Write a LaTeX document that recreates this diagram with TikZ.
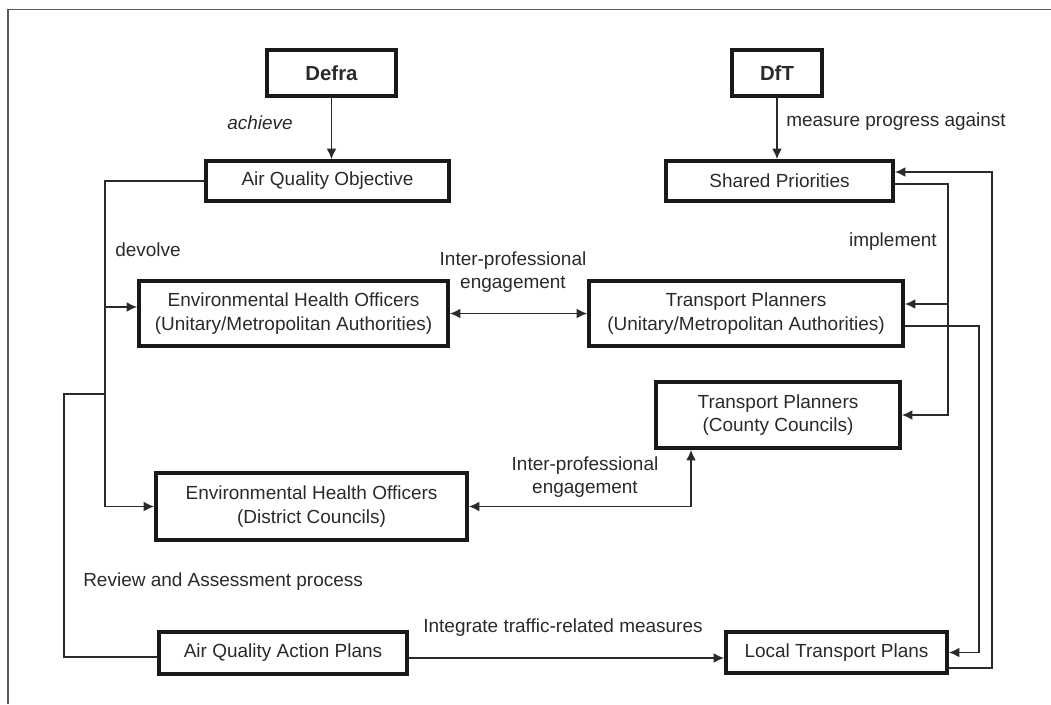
\documentclass[tikz,border=0pt]{standalone}
\usepackage{fontspec}
\setmainfont{Liberation Sans}
\usetikzlibrary{arrows.meta,calc}
\definecolor{ink}{HTML}{2A2A2A}
\tikzset{
  box/.style={draw=black!90,line width=2.6pt,inner sep=0pt,align=center,text=ink,font=\fontsize{13.5}{16.5}\selectfont},
  lbl/.style={text=ink,align=center,inner sep=0pt,font=\fontsize{13.5}{16.5}\selectfont},
  conn/.style={draw=ink,line width=1.1pt},
  arr/.style={conn,-{Latex[length=7.5pt,width=7pt]}},
  dbl/.style={conn,{Latex[length=7.5pt,width=7pt]}-{Latex[length=7.5pt,width=7pt]}},
}
\begin{document}
\begin{tikzpicture}[x=0.025cm,y=-0.025cm]
        \useasboundingbox(0,0)rectangle(1051,704);
        \draw[black!65,line width=1.3pt](1051,9.5)--(8,9.5)--(8,704);
        % top row
        \node[box,minimum width=3.225cm,minimum height=1.15cm,font=\bfseries\fontsize{14.5}{17}\selectfont](defra)at(331.5,73){Defra};
        \node[box,minimum width=2.25cm,minimum height=1.15cm,font=\bfseries\fontsize{14.5}{17}\selectfont](dft)at(777,73){DfT};
        \node[box,minimum width=6.075cm,minimum height=1cm](aqo)at(327.5,181){Air Quality Objective};
        \node[box,minimum width=5.675cm,minimum height=1cm](sp)at(779.5,181){Shared Priorities};
        % officers and planners
        \node[box,minimum width=7.725cm,minimum height=1.625cm](ehou)at(293.5,313.5){Environmental Health Officers\\(Unitary/Metropolitan Authorities)};
        \node[box,minimum width=7.85cm,minimum height=1.625cm](tpu)at(746,313.5){Transport Planners\\(Unitary/Metropolitan Authorities)};
        \node[box,minimum width=6.1cm,minimum height=1.65cm](tpc)at(778,415){Transport Planners\\(County Councils)};
        \node[box,minimum width=7.775cm,minimum height=1.675cm](ehod)at(311.5,506.5){Environmental Health Officers\\(District Councils)};
        % plans
        \node[box,minimum width=6.2cm,minimum height=1.05cm](aqap)at(283,653){Air Quality Action Plans};
        \node[box,minimum width=5.525cm,minimum height=1.025cm](ltp)at(836.5,652.5){Local Transport Plans};
        % labels
        \node[lbl,font=\itshape\fontsize{13.5}{16.5}\selectfont](achv)at(260,123){achieve};
        \node[lbl,anchor=west](mpa)at(786,122){measure progress against};
        \node[lbl,anchor=west](dev)at(115,250){devolve};
        \node[lbl](ipe1)at(513,272){Inter-professional\\engagement};
        \node[lbl,anchor=east](impl)at(937,242){implement};
        \node[lbl](ipe2)at(585,477){Inter-professional\\engagement};
        \node[lbl,anchor=west](rev)at(83,582){Review and Assessment process};
        \node[lbl](itm)at(563,628){Integrate traffic-related measures};
        % connectors
        \draw[arr](defra.south)--(defra.south|-aqo.north);
        \draw[arr](dft.south)--(dft.south|-sp.north);
        \coordinate(dv)at(105,307);
        \coordinate(ra)at(105,394);
        \draw[arr](aqo.west)-|(dv|-ehod.west)--(ehod.west);
        \draw[arr](dv)--(dv-|ehou.west);
        \draw[conn](ra)--++(-41,0)|-($(aqap.west)+(0,4)$);
        \draw[dbl](ehou.east)--(tpu.west);
        \coordinate(ie)at(691,0);
        \draw[dbl](ehod.east)-|(ie|-tpc.south);
        \coordinate(ri)at(948,304);
        \draw[arr]($(sp.east)+(0,3)$)-|(ri)|-(tpc.east);
        \draw[arr](ri)--(ri-|tpu.east);
        \coordinate(ro)at(979,326);
        \draw[arr](ro-|tpu.east)-|(ro|-ltp.east)--(ltp.east);
        \coordinate(rb)at(992,668);
        \coordinate(rt)at(992,172);
        \draw[arr](rb-|ltp.east)--(rb)--(rt)--(rt-|sp.east);
        \draw[arr]($(aqap.east)+(0,5)$)--($(ltp.west)+(0,5.5)$);
\end{tikzpicture}
\end{document}
